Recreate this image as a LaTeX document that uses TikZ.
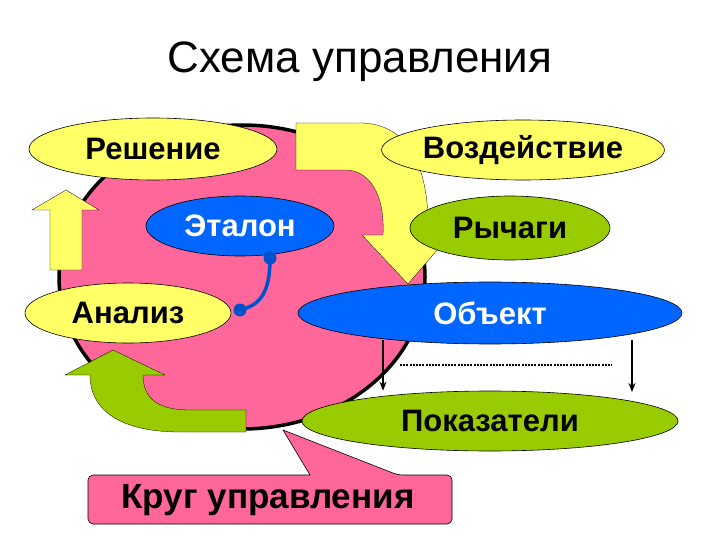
\documentclass[tikz,border=0pt]{standalone}
\usepackage{fontspec}
\setmainfont{Liberation Sans}
\usetikzlibrary{shapes.geometric,arrows.meta}
\definecolor{pinkc}{RGB}{255,102,153}
\definecolor{yel}{RGB}{255,255,102}
\definecolor{blu}{RGB}{0,102,255}
\definecolor{grn}{RGB}{153,204,0}
\tikzset{
  ell/.style={ellipse,draw=black,line width=0.6pt,inner sep=0pt,font=\fontsize{31}{36}\selectfont\bfseries},
  yell/.style={ell,fill=yel},
  bell/.style={ell,fill=blu,text=white},
  gell/.style={ell,fill=grn},
  bigarrow/.style={draw=black,line width=0.3pt},
}
\begin{document}
\begin{tikzpicture}[x=1pt,y=-1pt]
\useasboundingbox (0,0) rectangle (720,540);
\node (title) at (360,62) {\fontsize{44}{50}\selectfont Схема управления};
% circle
\node (circle) [ellipse,draw=black,line width=3.5pt,fill=pinkc,minimum width=366pt,minimum height=304pt] at (242,277) {};
% callout
\draw[fill=pinkc,draw=black,line width=0.6pt,rounded corners=5pt] (88,475) -- (88,524) -- (452,524) -- (452,475) -- (398,475) [sharp corners]-- (283,430) -- (310,475) [rounded corners=5pt]-- cycle;
\node (krug) at (268,500) {\fontsize{35}{40}\selectfont\bfseries Круг управления};
% left yellow up arrow
\draw[bigarrow,fill=yel] (50,270) -- (50,210) -- (32,210) -- (66,190) -- (99,210) -- (82,210) -- (82,270) -- cycle;
% green curved arrow
\draw[bigarrow,fill=grn] (246,432) -- (180,432) .. controls (120,432) and (90,410) .. (90,375) -- (65,375) -- (113,350) -- (165,375) -- (143,375) .. controls (143,400) and (160,410) .. (190,410) -- (246,410) -- cycle;
% yellow curved arrow top right
\draw[bigarrow,fill=yel] (296,123) -- (360,123) .. controls (410,123) and (430,170) .. (428,235) -- (450,235) -- (408,284) -- (362,235) -- (383,235) .. controls (385,195) and (370,170) .. (345,170) -- (296,170) -- cycle;
% ellipses
\node (resh) [yell,minimum width=248pt,minimum height=62pt] at (153,149) {Решение};
\node (vozd) [yell,minimum width=250pt,minimum height=60pt] at (523,150) {Воздействие};
\node (etal) [bell,minimum width=188pt,minimum height=60pt] at (240,226) {Эталон};
\node (rych) [gell,minimum width=200pt,minimum height=64pt] at (510,228) {Рычаги};
\node (anal) [yell,minimum width=206pt,minimum height=60pt] at (128,313) {Анализ};
\node (obj) [bell,minimum width=384pt,minimum height=62pt] at (490,313) {Объект};
\node (pok) [gell,minimum width=376pt,minimum height=60pt] at (490,421) {Показатели};
% blue connector
\coordinate (d1) at (270,258);
\coordinate (d2) at (240,310);
\draw[blu!80!black,line width=3.5pt] (d1) .. controls (270,290) and (262,305) .. (d2);
\fill[blu!80!black] (d1) circle (6.5pt) (d2) circle (6.5pt);
% arrows
\coordinate (a1) at (383,340);
\coordinate (a2) at (632,340);
\draw[line width=2.2pt,-{Stealth[length=9pt,width=7pt]}] (a1) -- (pok.north -| a1);
\draw[line width=2.2pt,-{Stealth[length=9pt,width=7pt]}] (a2) -- (632,392);
\coordinate (dl1) at (400,365);
\coordinate (dl2) at (612,365);
\draw[line width=2pt,dash pattern=on 2pt off 1.2pt] (dl1) -- (dl2);
\end{tikzpicture}
\end{document}
